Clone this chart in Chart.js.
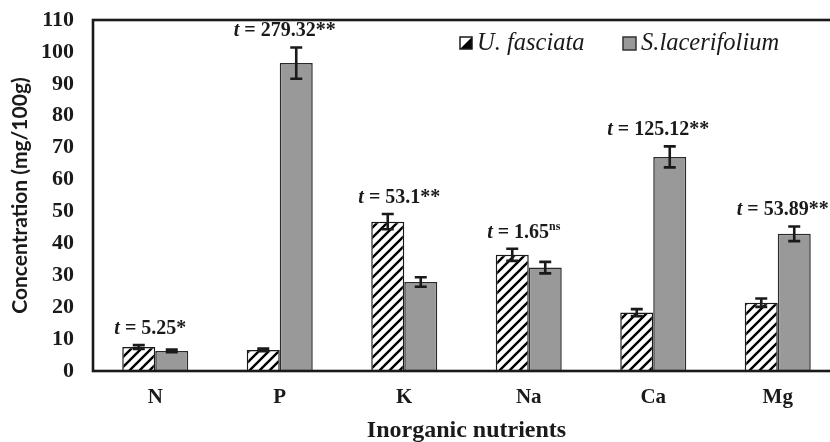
<!DOCTYPE html>
<html>
<head>
<meta charset="utf-8">
<script src="https://cdn.jsdelivr.net/npm/chart.js@4.4.0/dist/chart.umd.min.js"></script>
<style>
  html, body { margin: 0; padding: 0; background: #fff; overflow: hidden; }
  #wrap { width: 850px; height: 442px; }
</style>
</head>
<body>
<div id="wrap"><canvas id="nutrients__chart" width="850" height="442"></canvas></div>
<script>
// values (mg/100g)
var nutrients = ['N', 'P', 'K', 'Na', 'Ca', 'Mg'];
var fasciata = [7.5, 6.6, 46.8, 36.4, 18.3, 21.4];
var fasciataErr = [0.6, 0.4, 2.4, 1.9, 1.1, 1.3];
var lacerifolium = [6.3, 96.5, 27.9, 32.4, 67.1, 43.0];
var lacerifoliumErr = [0.4, 4.9, 1.5, 1.8, 3.3, 2.3];
var tValues = ['5.25*', '279.32**', '53.1**', '1.65', '125.12**', '53.89**'];
var tSuper = ['', '', '', 'ns', '', ''];

var ink = '#1a1a1a';
var serif = '"Liberation Serif", "Times New Roman", serif';

function hatchPattern(ctx) {
    var c = document.createElement('canvas');
    c.width = 10; c.height = 10;
    var g = c.getContext('2d');
    g.fillStyle = '#fff';
    g.fillRect(0, 0, 10, 10);
    g.strokeStyle = '#000';
    g.lineWidth = 2.4;
    g.beginPath();
    g.moveTo(-2, 12); g.lineTo(12, -2);
    g.moveTo(-2, 2); g.lineTo(2, -2);
    g.moveTo(8, 12); g.lineTo(12, 8);
    g.stroke();
    return ctx.createPattern(c, 'repeat');
}

var ctx = document.getElementById('nutrients__chart').getContext('2d');

var extras = {
    id: 'extras',
    afterDatasetsDraw: function (chart) {
        var c = chart.ctx;
        var y = chart.scales.y;
        var a = chart.chartArea;
        var errs = [fasciataErr, lacerifoliumErr];
        c.save();
        // error bars
        c.strokeStyle = ink;
        c.lineWidth = 2.6;
        [0, 1].forEach(function (d) {
            var meta = chart.getDatasetMeta(d);
            var vals = chart.data.datasets[d].data;
            meta.data.forEach(function (bar, i) {
                var hi = y.getPixelForValue(vals[i] + errs[d][i]);
                var lo = y.getPixelForValue(vals[i] - errs[d][i]);
                c.beginPath();
                c.moveTo(bar.x, hi); c.lineTo(bar.x, lo);
                c.moveTo(bar.x - 6, hi); c.lineTo(bar.x + 6, hi);
                c.moveTo(bar.x - 6, lo); c.lineTo(bar.x + 6, lo);
                c.stroke();
            });
        });

        // t statistics
        var m0 = chart.getDatasetMeta(0), m1 = chart.getDatasetMeta(1);
        c.fillStyle = ink;
        c.textBaseline = 'alphabetic';
        tValues.forEach(function (tv, i) {
            var top0 = fasciata[i] + fasciataErr[i];
            var top1 = lacerifolium[i] + lacerifoliumErr[i];
            var tall = top0 >= top1 ? m0.data[i] : m1.data[i];
            var center = (m0.data[i].x + m1.data[i].x) / 2;
            var x = center + (tall.x - center) * 0.3;
            var yy = y.getPixelForValue(Math.max(top0, top1)) - 11;
            c.font = 'italic bold 20px ' + serif;
            var w1 = c.measureText('t').width;
            c.font = 'bold 20px ' + serif;
            var rest = ' = ' + tv;
            var w2 = c.measureText(rest).width;
            c.font = 'bold 12px ' + serif;
            var w3 = tSuper[i] ? c.measureText(tSuper[i]).width : 0;
            var sx = x - (w1 + w2 + w3) / 2;
            c.textAlign = 'left';
            c.font = 'italic bold 20px ' + serif;
            c.fillText('t', sx, yy);
            c.font = 'bold 20px ' + serif;
            c.fillText(rest, sx + w1, yy);
            if (tSuper[i]) {
                c.font = 'bold 12px ' + serif;
                c.fillText(tSuper[i], sx + w1 + w2, yy - 8);
            }
        });

        // frame
        c.strokeStyle = ink;
        c.lineWidth = 2.6;
        c.strokeRect(a.left, a.top, a.right - a.left, a.bottom - a.top);

        // legend inside the plot
        var ly = a.top + 23;
        var lx = a.right - 380;
        c.lineWidth = 1.5;
        c.fillStyle = '#fff';
        c.fillRect(lx, ly - 6, 12, 12);
        c.fillStyle = '#000';
        c.beginPath();
        c.moveTo(lx + 12, ly - 6); c.lineTo(lx + 12, ly + 6); c.lineTo(lx, ly + 6);
        c.closePath(); c.fill();
        c.strokeRect(lx, ly - 6, 12, 12);
        c.font = 'italic 24.5px ' + serif;
        c.fillStyle = ink;
        c.textBaseline = 'middle';
        c.fillText(chart.data.datasets[0].label, lx + 17, ly + 1);
        var lx2 = lx + 163;
        c.fillStyle = '#999999';
        c.fillRect(lx2, ly - 6, 13, 13);
        c.strokeStyle = '#333';
        c.strokeRect(lx2, ly - 6, 13, 13);
        c.fillStyle = ink;
        c.fillText(chart.data.datasets[1].label, lx2 + 18, ly + 1);
        c.restore();
    }
};

var nutrientChart = new Chart(ctx, {
    type: 'bar',
    data: {
        labels: nutrients,
        datasets: [{
            label: 'U. fasciata',
            data: fasciata,
            backgroundColor: hatchPattern(ctx),
            borderColor: ink,
            borderWidth: 1.5
        }, {
            label: 'S.lacerifolium',
            data: lacerifolium,
            backgroundColor: '#999999',
            borderColor: '#2a2a2a',
            borderWidth: 1.5
        }]
    },
    options: {
        responsive: false,
        animation: false,
        devicePixelRatio: 1,
        layout: { padding: { top: 20, right: 10, left: 0, bottom: 0 } },
        datasets: { bar: { categoryPercentage: 0.53, barPercentage: 1 } },
        plugins: {
            legend: { display: false },
            tooltip: { enabled: false }
        },
        scales: {
            x: {
                grid: { display: false, drawTicks: false },
                border: { display: false },
                ticks: { color: ink, padding: 14, font: { family: serif, size: 21, weight: 'bold' } },
                title: {
                    display: true,
                    text: 'Inorganic nutrients',
                    color: ink,
                    padding: { top: 0, bottom: -3 },
                    font: { family: serif, size: 24, weight: 'bold' }
                },
                afterFit: function (s) { s.height = 71; s.paddingLeft = 0; s.paddingRight = 0; }
            },
            y: {
                min: 0,
                max: 110,
                grid: { display: false, drawTicks: false },
                border: { display: false },
                ticks: { stepSize: 10, color: ink, padding: 19, font: { family: serif, size: 22, weight: 'bold' } },
                title: {
                    display: true,
                    text: 'Concentration (mg/100g)',
                    color: ink,
                    padding: { top: 8, bottom: 0 },
                    font: { family: 'Lato, "Open Sans", sans-serif', size: 21, weight: 'bold' }
                },
                afterFit: function (s) { s.width = 93; s.paddingTop = 0; s.paddingBottom = 0; }
            }
        }
    },
    plugins: [extras]
});
</script>
</body>
</html>
